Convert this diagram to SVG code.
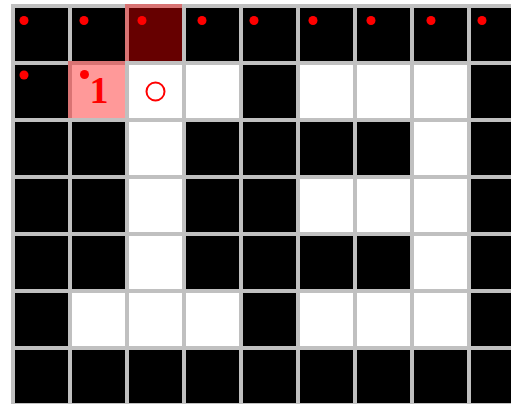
<svg xmlns="http://www.w3.org/2000/svg" width="511" height="404" viewBox="0 0 511 404">
<style>
rect.c{stroke:#c0c0c0;stroke-width:4}
.b{fill:#000}
.w{fill:#fff}
.hl{fill:#ff0000;fill-opacity:0.4;stroke:none}
.dot{fill:#ff0000}
.num{font-family:"Liberation Serif","Times New Roman",serif;font-weight:bold;font-size:38px;fill:#ff0000;text-anchor:middle}
</style>
<rect width="511" height="404" fill="#fff"/>
<g id="grid">
<g id="r0c0"><rect class="c b" x="13" y="6" width="57" height="57"/><circle class="dot" cx="24" cy="20.5" r="4.5"/></g>
<g id="r0c1"><rect class="c b" x="70" y="6" width="57" height="57"/><circle class="dot" cx="84" cy="20.5" r="4.5"/></g>
<g id="r0c2"><rect class="c b" x="127" y="6" width="57" height="57"/><rect class="hl" x="125" y="4" width="61" height="61"/><circle class="dot" cx="142" cy="20.5" r="4.5"/></g>
<g id="r0c3"><rect class="c b" x="184" y="6" width="57" height="57"/><circle class="dot" cx="202" cy="20.5" r="4.5"/></g>
<g id="r0c4"><rect class="c b" x="241" y="6" width="57" height="57"/><circle class="dot" cx="254" cy="20.5" r="4.5"/></g>
<g id="r0c5"><rect class="c b" x="298" y="6" width="57" height="57"/><circle class="dot" cx="313" cy="20.5" r="4.5"/></g>
<g id="r0c6"><rect class="c b" x="355" y="6" width="57" height="57"/><circle class="dot" cx="371" cy="20.5" r="4.5"/></g>
<g id="r0c7"><rect class="c b" x="412" y="6" width="57" height="57"/><circle class="dot" cx="431" cy="20.5" r="4.5"/></g>
<g id="r0c8"><rect class="c b" x="469" y="6" width="57" height="57"/><circle class="dot" cx="482" cy="20.5" r="4.5"/></g>

<g id="r1c0"><rect class="c b" x="13" y="63" width="57" height="57"/><circle class="dot" cx="24" cy="75" r="4.5"/></g>
<g id="r1c1"><rect class="c w" x="70" y="63" width="57" height="57"/><rect class="hl" x="68" y="61" width="61" height="61"/><circle class="dot" cx="84.5" cy="74.5" r="4.5"/><text class="num" x="99" y="103">1</text></g>
<g id="r1c2"><rect class="c w" x="127" y="63" width="57" height="57"/><circle cx="155.5" cy="91.5" r="9" fill="none" stroke="#ff0000" stroke-width="2"/></g>
<g id="r1c3"><rect class="c w" x="184" y="63" width="57" height="57"/></g>
<g id="r1c4"><rect class="c b" x="241" y="63" width="57" height="57"/></g>
<g id="r1c5"><rect class="c w" x="298" y="63" width="57" height="57"/></g>
<g id="r1c6"><rect class="c w" x="355" y="63" width="57" height="57"/></g>
<g id="r1c7"><rect class="c w" x="412" y="63" width="57" height="57"/></g>
<g id="r1c8"><rect class="c b" x="469" y="63" width="57" height="57"/></g>

<g id="r2c0"><rect class="c b" x="13" y="120" width="57" height="57"/></g>
<g id="r2c1"><rect class="c b" x="70" y="120" width="57" height="57"/></g>
<g id="r2c2"><rect class="c w" x="127" y="120" width="57" height="57"/></g>
<g id="r2c3"><rect class="c b" x="184" y="120" width="57" height="57"/></g>
<g id="r2c4"><rect class="c b" x="241" y="120" width="57" height="57"/></g>
<g id="r2c5"><rect class="c b" x="298" y="120" width="57" height="57"/></g>
<g id="r2c6"><rect class="c b" x="355" y="120" width="57" height="57"/></g>
<g id="r2c7"><rect class="c w" x="412" y="120" width="57" height="57"/></g>
<g id="r2c8"><rect class="c b" x="469" y="120" width="57" height="57"/></g>

<g id="r3c0"><rect class="c b" x="13" y="177" width="57" height="57"/></g>
<g id="r3c1"><rect class="c b" x="70" y="177" width="57" height="57"/></g>
<g id="r3c2"><rect class="c w" x="127" y="177" width="57" height="57"/></g>
<g id="r3c3"><rect class="c b" x="184" y="177" width="57" height="57"/></g>
<g id="r3c4"><rect class="c b" x="241" y="177" width="57" height="57"/></g>
<g id="r3c5"><rect class="c w" x="298" y="177" width="57" height="57"/></g>
<g id="r3c6"><rect class="c w" x="355" y="177" width="57" height="57"/></g>
<g id="r3c7"><rect class="c w" x="412" y="177" width="57" height="57"/></g>
<g id="r3c8"><rect class="c b" x="469" y="177" width="57" height="57"/></g>

<g id="r4c0"><rect class="c b" x="13" y="234" width="57" height="57"/></g>
<g id="r4c1"><rect class="c b" x="70" y="234" width="57" height="57"/></g>
<g id="r4c2"><rect class="c w" x="127" y="234" width="57" height="57"/></g>
<g id="r4c3"><rect class="c b" x="184" y="234" width="57" height="57"/></g>
<g id="r4c4"><rect class="c b" x="241" y="234" width="57" height="57"/></g>
<g id="r4c5"><rect class="c b" x="298" y="234" width="57" height="57"/></g>
<g id="r4c6"><rect class="c b" x="355" y="234" width="57" height="57"/></g>
<g id="r4c7"><rect class="c w" x="412" y="234" width="57" height="57"/></g>
<g id="r4c8"><rect class="c b" x="469" y="234" width="57" height="57"/></g>

<g id="r5c0"><rect class="c b" x="13" y="291" width="57" height="57"/></g>
<g id="r5c1"><rect class="c w" x="70" y="291" width="57" height="57"/></g>
<g id="r5c2"><rect class="c w" x="127" y="291" width="57" height="57"/></g>
<g id="r5c3"><rect class="c w" x="184" y="291" width="57" height="57"/></g>
<g id="r5c4"><rect class="c b" x="241" y="291" width="57" height="57"/></g>
<g id="r5c5"><rect class="c w" x="298" y="291" width="57" height="57"/></g>
<g id="r5c6"><rect class="c w" x="355" y="291" width="57" height="57"/></g>
<g id="r5c7"><rect class="c w" x="412" y="291" width="57" height="57"/></g>
<g id="r5c8"><rect class="c b" x="469" y="291" width="57" height="57"/></g>

<g id="r6c0"><rect class="c b" x="13" y="348" width="57" height="57"/></g>
<g id="r6c1"><rect class="c b" x="70" y="348" width="57" height="57"/></g>
<g id="r6c2"><rect class="c b" x="127" y="348" width="57" height="57"/></g>
<g id="r6c3"><rect class="c b" x="184" y="348" width="57" height="57"/></g>
<g id="r6c4"><rect class="c b" x="241" y="348" width="57" height="57"/></g>
<g id="r6c5"><rect class="c b" x="298" y="348" width="57" height="57"/></g>
<g id="r6c6"><rect class="c b" x="355" y="348" width="57" height="57"/></g>
<g id="r6c7"><rect class="c b" x="412" y="348" width="57" height="57"/></g>
<g id="r6c8"><rect class="c b" x="469" y="348" width="57" height="57"/></g>
</g>
<g id="connectors"/>
</svg>
